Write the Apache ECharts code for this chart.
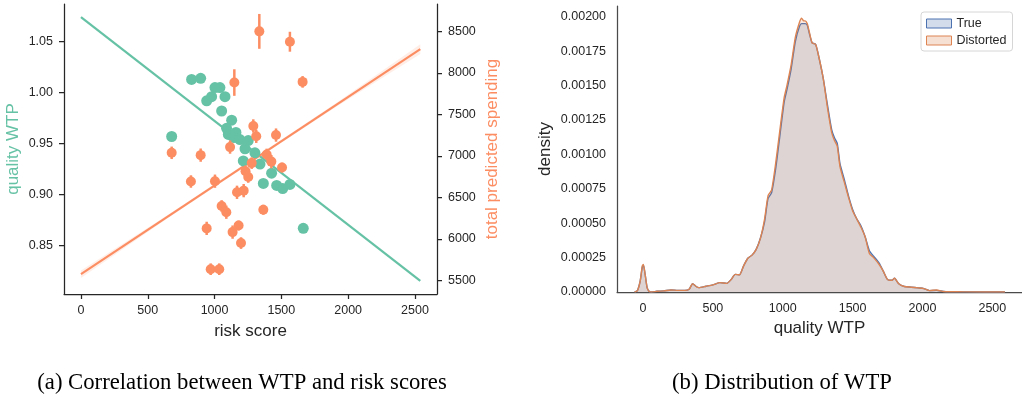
<!DOCTYPE html>
<html>
<head>
<meta charset="utf-8">
<script src="https://cdn.jsdelivr.net/npm/echarts@6/dist/echarts.min.js"></script>
<style>html,body{margin:0;padding:0;background:#fff;}#c{width:1022px;height:401px;}</style>
</head>
<body>
<div id="c"></div>
<script>
// ---- Left panel: WTP vs risk score ----
const wtpRisk  = [679, 828, 896, 941, 978, 1003, 1040, 1078, 1053, 1128, 1090, 1103, 1160, 1145, 1190, 1252, 1228, 1302, 1215, 1340, 1427, 1365, 1465, 1510, 1564, 1664];
const wtpValue = [0.957, 1.013, 1.014, 0.992, 0.996, 1.005, 1.005, 0.996, 0.982, 0.973, 0.965, 0.959, 0.961, 0.956, 0.954, 0.953, 0.945, 0.941, 0.933, 0.930, 0.921, 0.911, 0.909, 0.906, 0.910, 0.867];

const spendRisk  = [679, 896, 823, 1003, 1116, 1148, 1335, 1564, 1659, 1290, 1312, 1460, 1390, 1425, 1505, 1278, 1232, 1252, 1168, 1218, 1053, 1088, 1365, 941, 1135, 1180, 1198, 971, 1035];
const spendValue = [7036, 7008, 6690, 6694, 7105, 7883, 8500, 8375, 7891, 7360, 7235, 7250, 7016, 6930, 6858, 6912, 6814, 6745, 6560, 6580, 6395, 6320, 6350, 6125, 6080, 6160, 5948, 5633, 5633];
const spendErr   = [75, 80, 75, 80, 80, 160, 210, 120, 70, 80, 80, 80, 70, 80, 60, 70, 70, 70, 80, 80, 70, 80, 60, 80, 80, 60, 70, 70, 70];

const fitX        = [0, 2540];
const fitWtp      = [1.074, 0.8155];
const fitSpend    = [5573, 8286];
const bandX       = [0, 635, 1270, 1905, 2540];
const bandSpendLo = [5528, 6231, 6915, 7586, 8226];
const bandSpendHi = [5618, 6271, 6945, 7630, 8346];

const riskTicks  = [0, 500, 1000, 1500, 2000, 2500];
const wtpTicks   = [0.85, 0.90, 0.95, 1.00, 1.05];
const spendTicks = [5500, 6000, 6500, 7000, 7500, 8000, 8500];

// ---- Right panel: density of WTP ----
const densX = [-60,-40,-20,-5,3,15,30,45,60,100,150,200,250,300,330,355,380,400,450,500,550,600,630,660,690,720,750,780,810,840,870,895,920,950,980,1010,1030,1060,1090,1120,1135,1150,1160,1175,1190,1210,1235,1260,1290,1320,1350,1370,1390,1410,1440,1470,1500,1530,1560,1590,1620,1650,1690,1720,1750,1780,1800,1830,1870,1920,1970,2010,2050,2100,2150,2200,2300,2590];
const densTrue = [0,0.00001,0.00008,0.00018,0.000195,0.00013,0.00003,0.000003,0,0.000005,0.000008,0.000015,0.000012,0.000012,0.00002,0.00006,0.00004,0.000032,0.000042,0.000052,0.000068,0.000063,0.00009,0.000128,0.000125,0.00019,0.000245,0.000268,0.00031,0.00039,0.00051,0.00068,0.00072,0.0009,0.00114,0.00138,0.00147,0.00162,0.00182,0.00193,0.00195,0.00195,0.00195,0.00194,0.00188,0.00181,0.0018,0.0017,0.00155,0.00136,0.00118,0.00112,0.00108,0.00093,0.00082,0.0007,0.0006,0.00053,0.00048,0.0004,0.0003,0.00026,0.00021,0.00015,0.00009,0.000085,0.0001,0.00006,0.00004,0.000035,0.00003,0.000025,0.00001,0.000012,0.000004,0.000002,0.000001,0];
const densDist = [0,0.00001,0.00008,0.00019,0.0002,0.00013,0.00003,0.000003,0,0.000005,0.000008,0.000015,0.000012,0.000012,0.00002,0.00006,0.00004,0.000032,0.000042,0.000052,0.000068,0.000063,0.00009,0.000128,0.000125,0.00019,0.000245,0.000268,0.00031,0.00039,0.00053,0.0007,0.00074,0.00094,0.00118,0.00141,0.0015,0.00165,0.00185,0.00196,0.00199,0.00197,0.00197,0.00195,0.00189,0.00181,0.0018,0.0017,0.00155,0.00134,0.00116,0.0011,0.00106,0.00091,0.0008,0.00069,0.00059,0.00053,0.00047,0.0004,0.00028,0.00025,0.0002,0.00015,0.00009,0.000085,0.0001,0.00006,0.00004,0.000035,0.00003,0.000025,0.00001,0.000015,0.000004,0.000002,0.000001,0];
const wtpTicksX  = [0, 500, 1000, 1500, 2000, 2500];
const densTicks  = [0, 0.00025, 0.0005, 0.00075, 0.001, 0.00125, 0.0015, 0.00175, 0.002];
const legendNames = ['True', 'Distorted'];
const captions = ['(a) Correlation between WTP and risk scores', '(b) Distribution of WTP'];

const GREEN = '#66c2a5', ORANGE = '#fc8d62', BLUE_L = '#4c72b0', ORANGE_L = '#dd8452';
const TXT = '#262626', FONT = '"Liberation Sans", Arial, sans-serif';
const lab = (fmt, margin) => ({ color: TXT, fontSize: 12.5, fontFamily: FONT, margin: margin, formatter: fmt });

const chart = echarts.init(document.getElementById('c'), null, { renderer: 'canvas' });

const option = {
  animation: false,
  backgroundColor: '#fff',
  grid: [
    { left: 64, top: 4, right: 585, bottom: 107 },
    { left: 617, top: 6, right: 0, bottom: 109 }
  ],
  xAxis: [
    { gridIndex: 0, type: 'value', min: -127, max: 2665,
      name: 'risk score', nameLocation: 'middle', nameGap: 29,
      nameTextStyle: { color: TXT, fontSize: 17, fontFamily: FONT },
      axisLine: { show: true, onZero: false, lineStyle: { color: TXT, width: 1.25 } },
      axisTick: { show: true, length: 5, customValues: riskTicks, lineStyle: { color: TXT, width: 1.25 } },
      axisLabel: Object.assign(lab(v => String(v), 10), { customValues: riskTicks }),
      splitLine: { show: false } },
    { gridIndex: 1, type: 'value', min: -186, max: 2712,
      name: 'quality WTP', nameLocation: 'middle', nameGap: 28,
      nameTextStyle: { color: TXT, fontSize: 17, fontFamily: FONT },
      axisLine: { show: true, onZero: false, lineStyle: { color: '#4a4a4a', width: 1.25 } },
      axisTick: { show: false },
      axisLabel: Object.assign(lab(v => String(v), 10), { customValues: wtpTicksX }),
      splitLine: { show: false } }
  ],
  yAxis: [
    { gridIndex: 0, type: 'value', min: 0.8026, max: 1.0869, position: 'left',
      name: 'quality WTP', nameLocation: 'middle', nameGap: 42,
      nameTextStyle: { color: GREEN, fontSize: 17, fontFamily: FONT },
      axisLine: { show: true, onZero: false, lineStyle: { color: TXT, width: 1.25 } },
      axisTick: { show: true, length: 5, customValues: wtpTicks, lineStyle: { color: TXT, width: 1.25 } },
      axisLabel: Object.assign(lab(v => v.toFixed(2), 11), { customValues: wtpTicks }),
      splitLine: { show: false } },
    { gridIndex: 0, type: 'value', min: 5334, max: 8830, position: 'right',
      name: 'total predicted spending', nameLocation: 'middle', nameGap: 47,
      nameTextStyle: { color: ORANGE, fontSize: 17, fontFamily: FONT },
      axisLine: { show: true, onZero: false, lineStyle: { color: TXT, width: 1.25 } },
      axisTick: { show: true, length: 5, customValues: spendTicks, lineStyle: { color: TXT, width: 1.25 } },
      axisLabel: Object.assign(lab(v => String(v), 11), { customValues: spendTicks }),
      splitLine: { show: false } },
    { gridIndex: 1, type: 'value', min: 0, max: 0.002078,
      name: 'density', nameLocation: 'middle', nameGap: 63,
      nameTextStyle: { color: TXT, fontSize: 17, fontFamily: FONT },
      axisLine: { show: true, onZero: false, lineStyle: { color: '#4a4a4a', width: 1.25 } },
      axisTick: { show: false },
      axisLabel: Object.assign(lab(v => v.toFixed(5), 11), { customValues: densTicks }),
      splitLine: { show: false } }
  ],
  legend: {
    left: 921, top: 12, orient: 'vertical',
    padding: [5, 6, 4, 5], itemGap: 4, itemWidth: 25, itemHeight: 9,
    borderColor: '#d6d6d6', borderWidth: 1, borderRadius: 3, backgroundColor: '#fff',
    textStyle: { color: TXT, fontSize: 12.5, fontFamily: FONT },
    icon: 'rect',
    data: [
      { name: legendNames[0], itemStyle: { color: 'rgba(76,114,176,0.25)', borderColor: BLUE_L, borderWidth: 1 } },
      { name: legendNames[1], itemStyle: { color: 'rgba(221,132,82,0.25)', borderColor: ORANGE_L, borderWidth: 1 } }
    ]
  },
  series: [
    // orange CI band
    { type: 'custom', xAxisIndex: 0, yAxisIndex: 1, silent: true, z: 1,
      data: bandX.map((x, i) => [x, bandSpendLo[i], bandSpendHi[i]]),
      renderItem: function (params, api) {
        if (params.dataIndex !== 0) return null;
        const pts = [];
        for (let i = 0; i < bandX.length; i++) pts.push(api.coord([bandX[i], bandSpendHi[i]]));
        for (let i = bandX.length - 1; i >= 0; i--) pts.push(api.coord([bandX[i], bandSpendLo[i]]));
        return { type: 'polygon', shape: { points: pts }, style: { fill: 'rgba(252,141,98,0.15)' } };
      } },
    // regression lines
    { type: 'line', xAxisIndex: 0, yAxisIndex: 0, data: fitX.map((x, i) => [x, fitWtp[i]]),
      symbol: 'none', lineStyle: { color: GREEN, width: 2.2 }, z: 2 },
    { type: 'line', xAxisIndex: 0, yAxisIndex: 1, data: fitX.map((x, i) => [x, fitSpend[i]]),
      symbol: 'none', lineStyle: { color: ORANGE, width: 2.2 }, z: 2 },
    // green points
    { type: 'scatter', xAxisIndex: 0, yAxisIndex: 0, data: wtpRisk.map((x, i) => [x, wtpValue[i]]),
      symbolSize: 11, itemStyle: { color: GREEN, opacity: 1 }, z: 3 },
    // orange error bars
    { type: 'custom', xAxisIndex: 0, yAxisIndex: 1, z: 4,
      data: spendRisk.map((x, i) => [x, spendValue[i] - spendErr[i], spendValue[i] + spendErr[i]]),
      renderItem: function (params, api) {
        const a = api.coord([api.value(0), api.value(1)]);
        const b = api.coord([api.value(0), api.value(2)]);
        return { type: 'line', shape: { x1: a[0], y1: a[1], x2: b[0], y2: b[1] },
                 style: { stroke: ORANGE, lineWidth: 2.5 } };
      } },
    // orange points
    { type: 'scatter', xAxisIndex: 0, yAxisIndex: 1, data: spendRisk.map((x, i) => [x, spendValue[i]]),
      symbolSize: 10, itemStyle: { color: ORANGE, opacity: 1 }, z: 5 },
    // density curves
    { name: legendNames[0], type: 'line', xAxisIndex: 1, yAxisIndex: 2,
      data: densX.map((x, i) => [x, densTrue[i]]), symbol: 'none', smooth: 0.2,
      itemStyle: { color: BLUE_L }, lineStyle: { color: BLUE_L, width: 1.4 },
      areaStyle: { color: 'rgba(76,114,176,0.25)', origin: 'start' }, z: 2 },
    { name: legendNames[1], type: 'line', xAxisIndex: 1, yAxisIndex: 2,
      data: densX.map((x, i) => [x, densDist[i]]), symbol: 'none', smooth: 0.2,
      itemStyle: { color: ORANGE_L }, lineStyle: { color: ORANGE_L, width: 1.4 },
      areaStyle: { color: 'rgba(221,132,82,0.25)', origin: 'start' }, z: 3 }
  ],
  graphic: [
    { type: 'text', x: 242, y: 383, style: { text: captions[0], fill: '#000', font: '22.7px "Liberation Serif", "Times New Roman", serif', textAlign: 'center', textVerticalAlign: 'middle' } },
    { type: 'text', x: 782, y: 383, style: { text: captions[1], fill: '#000', font: '22.7px "Liberation Serif", "Times New Roman", serif', textAlign: 'center', textVerticalAlign: 'middle' } }
  ]
};
chart.setOption(option);
</script>
</body>
</html>
